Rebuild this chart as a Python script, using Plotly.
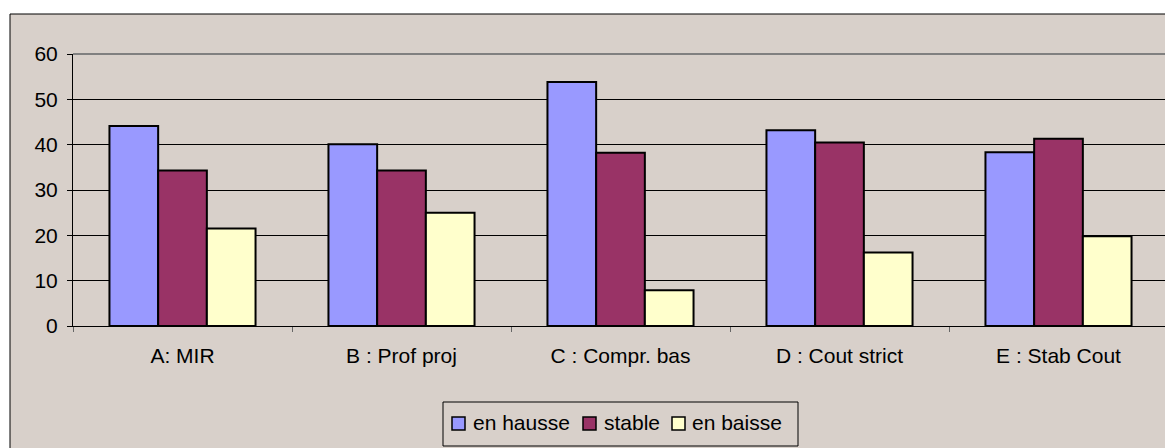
import plotly.graph_objects as go

categories = ["A: MIR", "B : Prof proj", "C : Compr. bas", "D : Cout strict", "E : Stab Cout"]
en_hausse = [44.1, 40.1, 53.8, 43.2, 38.3]
stable = [34.3, 34.3, 38.2, 40.5, 41.3]
en_baisse = [21.5, 25.0, 7.9, 16.2, 19.8]
series_names = ["en hausse", "stable", "en baisse"]
series_colors = ["#9999FF", "#993366", "#FFFFCC"]

BG = "#D8D0CA"
OFF = 8  # default page body margin
W, H = 1173 - OFF, 448 - OFF
L, R, T, B = 73 - OFF, 5, 54 - OFF, 122
pw = W - L - R
ph = H - T - B


def px_x(p):
    return (p - OFF - L) / pw


def px_y(p):
    return (H - B - (p - OFF)) / ph


fig = go.Figure()
for name, vals, col in zip(series_names, [en_hausse, stable, en_baisse], series_colors):
    fig.add_trace(go.Bar(
        x=categories, y=vals, name=name,
        marker=dict(color=col, line=dict(color="black", width=2)),
        hoverinfo="skip", showlegend=False,
    ))

# chart area background with border
fig.add_shape(type="rect", xref="paper", yref="paper",
              x0=px_x(10), x1=px_x(1185), y0=px_y(460), y1=px_y(14),
              fillcolor=BG, line=dict(color="black", width=1), layer="below")
# plot area border (top and right, grey)
fig.add_shape(type="line", xref="paper", yref="paper",
              x0=0, x1=1, y0=1, y1=1, line=dict(color="#808080", width=2))
fig.add_shape(type="line", xref="paper", yref="paper",
              x0=1, x1=1, y0=0, y1=1, line=dict(color="#808080", width=2))

FS = 21
font = dict(family="Liberation Sans, Arial, sans-serif", size=FS, color="black")

# manual legend (compact, Excel style)
fig.add_shape(type="rect", xref="paper", yref="paper",
              x0=px_x(443), x1=px_x(798), y0=px_y(446), y1=px_y(402),
              fillcolor=BG, line=dict(color="black", width=1))
leg_sq_x = [452, 583, 672]
leg_tx_x = [471, 602, 690]
for name, col, sx, tx in zip(series_names, series_colors, leg_sq_x, leg_tx_x):
    fig.add_shape(type="rect", xref="paper", yref="paper",
                  x0=px_x(sx), x1=px_x(sx + 13), y0=px_y(430), y1=px_y(417),
                  fillcolor=col, line=dict(color="black", width=1.5))
    fig.add_annotation(xref="paper", yref="paper", x=px_x(tx), y=px_y(422),
                       text=name, showarrow=False, xanchor="left",
                       yanchor="middle", font=font)

fig.update_layout(
    width=W, height=H,
    margin=dict(l=L, r=R, t=T, b=B),
    paper_bgcolor="white",
    plot_bgcolor="rgba(0,0,0,0)",
    barmode="group", bargap=0.333, bargroupgap=0,
    font=font,
    showlegend=False,
    xaxis=dict(showline=True, linecolor="black", linewidth=1,
               ticks="outside", tickson="boundaries", ticklen=5,
               tickcolor="#666666", showgrid=False, tickfont=font,
               ticklabelstandoff=11, fixedrange=True),
    yaxis=dict(range=[0, 60], dtick=10, showline=True, linecolor="black",
               linewidth=1, ticks="outside", ticklen=5, tickcolor="black",
               gridcolor="black", gridwidth=1, zeroline=False,
               tickfont=font, ticklabelstandoff=5, fixedrange=True),
)

fig.write_html("out.html")
